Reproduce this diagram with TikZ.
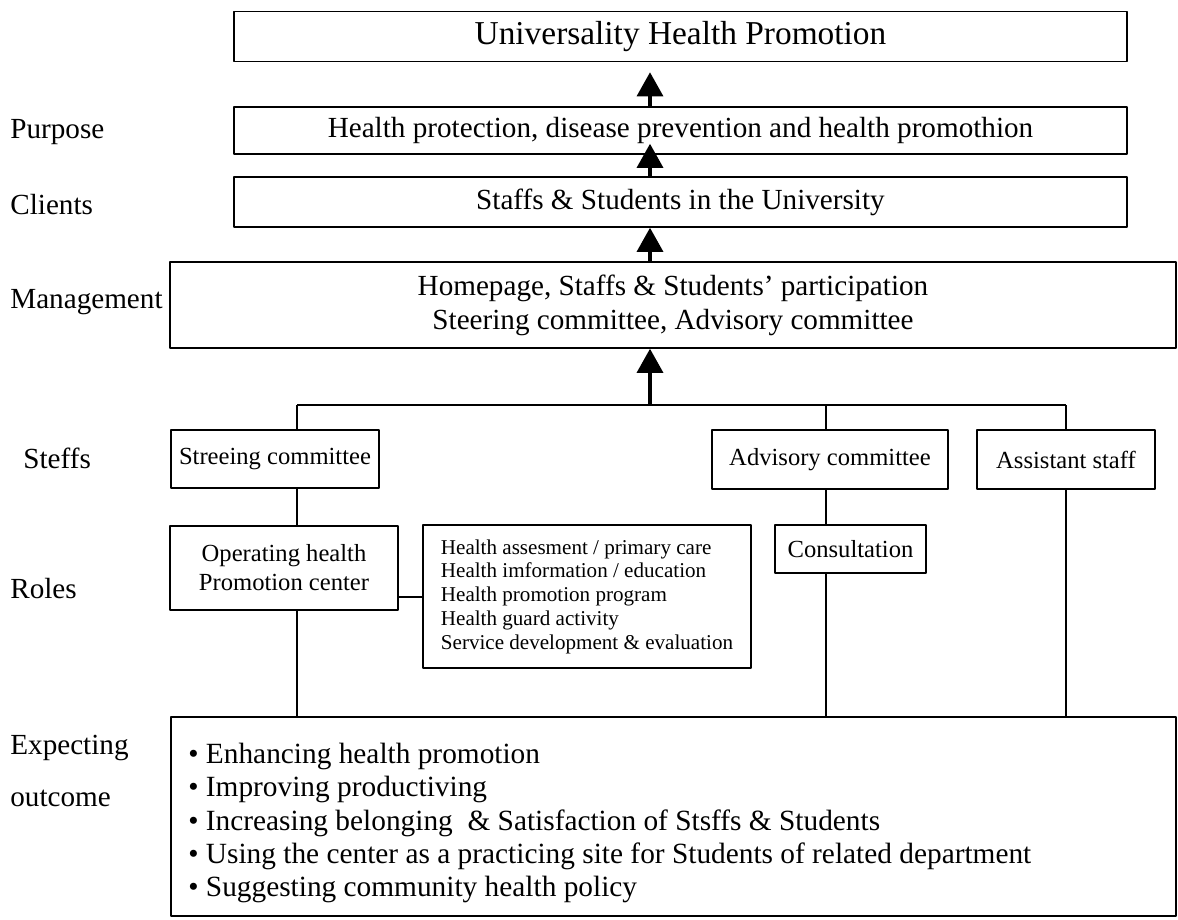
\documentclass[tikz,border=0pt]{standalone}
\usepackage{fontspec}
\setmainfont{Liberation Serif}
\usetikzlibrary{arrows.meta}
\newcommand{\ftitle}{\fontsize{19}{23}\selectfont}
\newcommand{\fmain}{\fontsize{16.6}{19.3}\selectfont}
\newcommand{\fout}{\fontsize{16.7}{18.8}\selectfont}
\newcommand{\fmid}{\fontsize{14}{16.5}\selectfont}
\newcommand{\fsmall}{\fontsize{12}{13.5}\selectfont}
\tikzset{
	box/.style={draw, line width=0.9pt, inner sep=0pt, align=center},
	lab/.style={anchor=west, inner sep=0pt},
	arr/.style={line width=1.8pt, -{Triangle[width=0.52cm,length=0.48cm]}},
	link/.style={line width=0.7pt},
}
\begin{document}
\begin{tikzpicture}[x=0.02cm, y=-0.02cm, font=\fmain, line join=round]
	\useasboundingbox (0,0) rectangle (1178,920);
	\path
	(650,0) coordinate (mid)
	(650,405) coordinate (bus)
	(297,405) coordinate (c1)
	(826,405) coordinate (c2)
	(1066,405) coordinate (c3)
	(0,597) coordinate (lk)
	;
	\node[box, minimum width=17.86cm, minimum height=1cm, font=\ftitle] (top) at (680.5,36.5) {Universality Health Promotion};
	\node[box, minimum width=17.86cm, minimum height=0.94cm] (purp) at (680.5,130.5) {Health protection, disease prevention and health promothion};
	\node[box, minimum width=17.86cm, minimum height=1cm] (cli) at (680.5,202) {Staffs \& Students in the University};
	\node[box, minimum width=20.12cm, minimum height=1.72cm] (mgmt) at (673,305) {Homepage, Staffs \& Students' participation\\Steering committee, Advisory committee};
	\node[box, minimum width=4.16cm, minimum height=1.16cm, font=\fmid] (steer) at (275,459) {Streeing committee};
	\node[box, minimum width=4.72cm, minimum height=1.18cm, font=\fmid] (adv) at (830,459.5) {Advisory committee};
	\node[box, minimum width=3.56cm, minimum height=1.18cm, font=\fmid] (asst) at (1066,459.5) {Assistant staff};
	\node[box, minimum width=4.56cm, minimum height=1.68cm, font=\fmid] (oper) at (284,568) {Operating health\\Promotion center};
	\node[box, minimum width=6.56cm, minimum height=2.86cm, font=\fsmall, align=left] (list) at (587,596.5) {Health assesment / primary care\\Health imformation / education\\Health promotion program\\Health guard activity\\Service development \& evaluation};
	\node[box, minimum width=3.02cm, minimum height=0.96cm, font=\fmid] (cons) at (850.5,549) {Consultation};
	\node[box, minimum width=20.1cm, minimum height=3.98cm] (outc) at (673.5,816.5) {};
	\node[lab, align=left, font=\fout] (outtxt) at (188,823) {\textbullet\ Enhancing health promotion\\\textbullet\ Improving productiving\\\textbullet\ Increasing belonging \ \& Satisfaction of Stsffs \& Students\\\textbullet\ Using the center as a practicing site for Students of related department\\\textbullet\ Suggesting community health policy};

	\node[lab] (lpurp) at (10,132) {Purpose};
	\node[lab] (lcli) at (10,205) {Clients};
	\node[lab] (lmgmt) at (10,302) {Management};
	\node[lab] (lsteff) at (23,458) {Steffs};
	\node[lab] (lroles) at (10,589) {Roles};
	\node[lab] (lexp) at (10,748) {Expecting};
	\node[lab] (lout) at (10,798) {outcome};

	\draw[arr, shorten >=0.2cm] (purp.north -| mid) -- (top.south -| mid);
	\draw[arr, shorten >=-0.22cm] (cli.north -| mid) -- (purp.south -| mid);
	\draw[arr] (mgmt.north -| mid) -- (cli.south -| mid);
	\draw[arr] (bus) -- (mgmt.south -| bus);

	\draw[link] (c1) -- (c3);
	\draw[link] (c1) -- (steer.north -| c1);
	\draw[link] (c2) -- (adv.north -| c2);
	\draw[link] (c3) -- (asst.north -| c3);
	\draw[link] (steer.south -| c1) -- (oper.north -| c1);
	\draw[link] (oper.south -| c1) -- (outc.north -| c1);
	\draw[link] (adv.south -| c2) -- (cons.north -| c2);
	\draw[link] (cons.south -| c2) -- (outc.north -| c2);
	\draw[link] (asst.south -| c3) -- (outc.north -| c3);
	\draw[link] (oper.east |- lk) -- (list.west |- lk);
\end{tikzpicture}
\end{document}
